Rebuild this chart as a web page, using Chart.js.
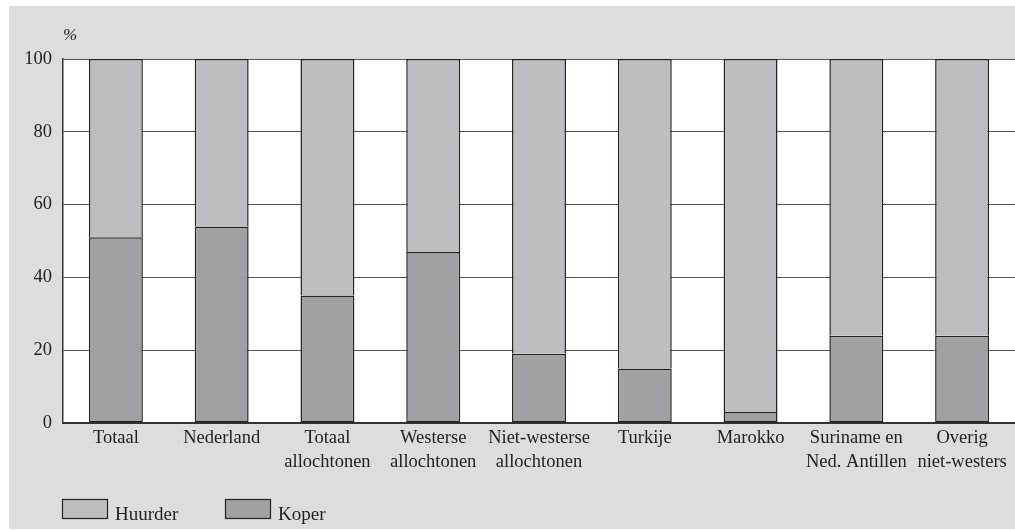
<!DOCTYPE html>
<html>
<head>
<meta charset="utf-8">
<script src="https://cdn.jsdelivr.net/npm/chart.js@4/dist/chart.umd.min.js"></script>
<style>
    html, body { margin: 0; padding: 0; background: #fff; }
    #wrap { width: 1015px; height: 531px; }
</style>
</head>
<body>
<div id="wrap"><canvas id="chart" width="1015" height="531"></canvas></div>
<script>
const categories = [
    'Totaal', 'Nederland', ['Totaal', 'allochtonen'], ['Westerse', 'allochtonen'],
    ['Niet-westerse', 'allochtonen'], 'Turkije', 'Marokko',
    ['Suriname en', 'Ned. Antillen'], ['Overig', 'niet-westers']
];
const koper = [51, 54, 35, 47, 19, 15, 3, 24, 24];
const huurder = [49, 46, 65, 53, 81, 85, 97, 76, 76];
const yTicks = [0, 20, 40, 60, 80, 100];

const SERIF = '"Liberation Serif", "DejaVu Serif", serif';
const INK = '#222';

// grey panel, white plot area, % label and legend
const frame = {
    id: 'frame',
    beforeDraw(chart) {
        const { ctx, chartArea: a } = chart;
        ctx.save();
        ctx.fillStyle = '#dcdddf';
        ctx.fillRect(9, 6, 1006, 523);
        ctx.fillStyle = '#fff';
        ctx.fillRect(a.left, a.top, a.right - a.left, a.bottom - a.top);
        ctx.restore();
    },
    afterDraw(chart) {
        const { ctx } = chart;
        ctx.save();
        ctx.fillStyle = INK;
        ctx.font = 'italic 17px ' + SERIF;
        ctx.textBaseline = 'alphabetic';
        ctx.fillText('%', 63, 40);

        // legend: Huurder first, then Koper
        const items = [chart.data.datasets[1], chart.data.datasets[0]];
        const xs = [62, 225];
        ctx.font = '19px ' + SERIF;
        items.forEach((ds, i) => {
            ctx.fillStyle = ds.backgroundColor;
            ctx.fillRect(xs[i], 499, 46, 20);
            ctx.strokeStyle = INK;
            ctx.lineWidth = 1.2;
            ctx.strokeRect(xs[i] + 0.5, 499.5, 45, 19);
            ctx.fillStyle = INK;
            ctx.fillText(ds.label, xs[i] + 53, 520);
        });
        ctx.restore();
    }
};

new Chart(document.getElementById('chart'), {
    type: 'bar',
    data: {
        labels: categories,
        datasets: [
            {
                label: 'Koper',
                data: koper,
                backgroundColor: '#a0a1a4',
                borderColor: INK,
                borderWidth: 1.5,
                borderSkipped: false
            },
            {
                label: 'Huurder',
                data: huurder,
                backgroundColor: '#bdbec1',
                borderColor: INK,
                borderWidth: 1.5,
                borderSkipped: 'start'
            }
        ]
    },
    options: {
        responsive: false,
        animation: false,
        layout: { padding: { top: 59, right: 0, left: 0, bottom: 0 } },
        datasets: { bar: { categoryPercentage: 1, barPercentage: 0.51 } },
        plugins: {
            legend: { display: false },
            tooltip: { enabled: false }
        },
        scales: {
            x: {
                stacked: true,
                grid: { display: false, drawTicks: false },
                border: { display: true, color: '#333', width: 2 },
                ticks: {
                    color: INK,
                    font: { family: SERIF, size: 18.5, lineHeight: 1.25 },
                    padding: 4,
                    maxRotation: 0,
                    autoSkip: false
                },
                afterFit(scale) { scale.height = 108; }
            },
            y: {
                stacked: true,
                min: 0,
                max: 100,
                afterBuildTicks(scale) { scale.ticks = yTicks.map(v => ({ value: v })); },
                grid: { color: '#555', lineWidth: 1, drawTicks: false },
                border: { display: true, color: '#333', width: 1.5 },
                ticks: {
                    color: INK,
                    font: { family: SERIF, size: 18.5 },
                    padding: 11
                },
                afterFit(scale) { scale.width = 63; }
            }
        }
    },
    plugins: [frame]
});
</script>
</body>
</html>
